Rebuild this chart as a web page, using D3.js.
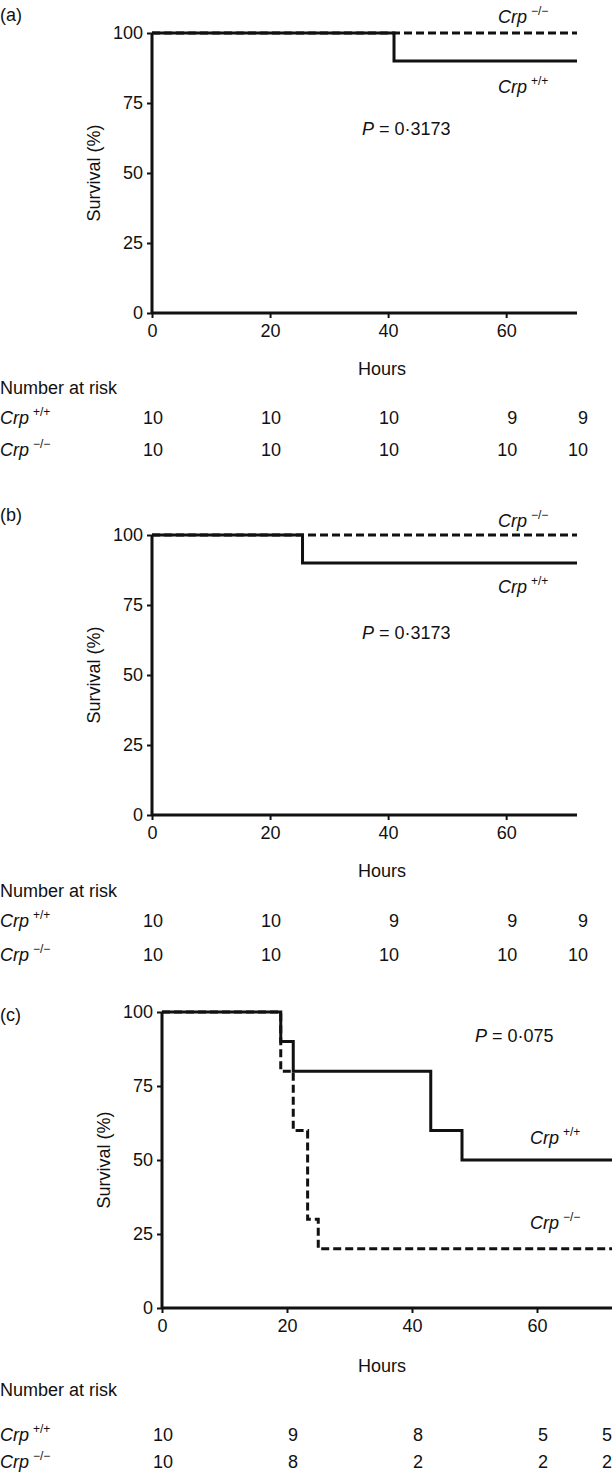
<!DOCTYPE html>
<html><head><meta charset="utf-8">
<script src="https://cdn.jsdelivr.net/npm/d3@7"></script>
<style>
html,body{margin:0;padding:0;background:#fff;}
svg text{font-family:"Liberation Sans",Arial,sans-serif;fill:#111;}
</style></head>
<body>
<svg id="chart" width="614" height="1475"></svg>
<script>
// ---------- data ----------
const hourTicks = [0, 20, 40, 60];
const survivalTicks = [0, 25, 50, 75, 100];
const riskHours = [0, 20, 40, 60, 72];

// Panel (a)
const aWildHours = [0, 41, 72];
const aWildSurvival = [100, 90, 90];
const aKoHours = [0, 72];
const aKoSurvival = [100, 100];
const aRiskWild = [10, 10, 10, 9, 9];
const aRiskKo = [10, 10, 10, 10, 10];
const aP = "0·3173";

// Panel (b)
const bWildHours = [0, 25.5, 72];
const bWildSurvival = [100, 90, 90];
const bKoHours = [0, 72];
const bKoSurvival = [100, 100];
const bRiskWild = [10, 10, 9, 9, 9];
const bRiskKo = [10, 10, 10, 10, 10];
const bP = "0·3173";

// Panel (c)
const cWildHours = [0, 19, 21, 43, 48, 72];
const cWildSurvival = [100, 90, 80, 60, 50, 50];
const cKoHours = [0, 19, 21, 23.3, 25, 72];
const cKoSurvival = [100, 80, 60, 30, 20, 20];
const cRiskWild = [10, 9, 8, 5, 5];
const cRiskKo = [10, 8, 2, 2, 2];
const cP = "0·075";

// ---------- layout ----------
const panels = [
  {tag:"(a)", tagY:21, top:33, bottom:313, left:152, right:577,
   wild:{h:aWildHours, s:aWildSurvival}, ko:{h:aKoHours, s:aKoSurvival},
   riskWild:aRiskWild, riskKo:aRiskKo, p:aP, pX:362, pY:135,
   koLab:[498,23], wildLab:[498,93], off:{hours:62, nar:81, r1:111, r2:143}},
  {tag:"(b)", tagY:521, top:535, bottom:815, left:152, right:577,
   wild:{h:bWildHours, s:bWildSurvival}, ko:{h:bKoHours, s:bKoSurvival},
   riskWild:bRiskWild, riskKo:bRiskKo, p:bP, pX:362, pY:639,
   koLab:[498,527], wildLab:[498,593], off:{hours:62, nar:82, r1:112, r2:146}},
  {tag:"(c)", tagY:1021, top:1012, bottom:1308, left:162, right:612,
   wild:{h:cWildHours, s:cWildSurvival}, ko:{h:cKoHours, s:cKoSurvival},
   riskWild:cRiskWild, riskKo:cRiskKo, p:cP, pX:475, pY:1042,
   koLab:[530,1229], wildLab:[530,1144], off:{hours:64, nar:88, r1:133, r2:160}}
];

const svg = d3.select("#chart");
const FS = 18;

function crpLabel(g, x, y, sup){
  const t = g.append("text").attr("x", x).attr("y", y).attr("font-size", FS);
  t.append("tspan").attr("font-style","italic").text("Crp");
  t.append("tspan").attr("font-size", 12).attr("dx", 4).attr("dy", -8).text(sup);
}

panels.forEach(p => {
  const g = svg.append("g");
  const x = d3.scaleLinear().domain([0, 72]).range([p.left, p.right]);
  const y = d3.scaleLinear().domain([0, 100]).range([p.bottom, p.top]);

  g.append("text").attr("x", 0).attr("y", p.tagY).attr("font-size", FS).text(p.tag);

  // axes
  const xAxis = d3.axisBottom(x).tickValues(hourTicks).tickSize(5).tickPadding(6).tickFormat(d3.format("d"));
  const yAxis = d3.axisLeft(y).tickValues(survivalTicks).tickSize(5).tickPadding(4).tickFormat(d3.format("d"));
  const gx = g.append("g").attr("transform", `translate(0,${p.bottom})`).call(xAxis);
  const gy = g.append("g").attr("transform", `translate(${p.left},0)`).call(yAxis);
  [gx, gy].forEach(a => {
    a.select(".domain").attr("stroke", "#111").attr("stroke-width", 3);
    a.selectAll(".tick line").attr("stroke", "#111").attr("stroke-width", 2);
    a.selectAll(".tick text").attr("font-size", FS).attr("font-family", "Liberation Sans, Arial, sans-serif").attr("fill", "#111");
  });
  gx.select(".domain").attr("d", `M${p.left},0H${p.right}`);
  gy.select(".domain").attr("d", `M0,${p.bottom}V${p.top}`);

  // axis titles
  g.append("text").attr("x", 382).attr("y", p.bottom + p.off.hours).attr("text-anchor", "middle")
    .attr("font-size", FS).text("Hours");
  g.append("text").attr("transform", `translate(${p.left - 52},${(p.top + p.bottom) / 2}) rotate(-90)`)
    .attr("text-anchor", "middle").attr("font-size", FS).text("Survival (%)");

  // curves
  const line = d3.line().x(d => x(d[0])).y(d => y(d[1])).curve(d3.curveStepAfter);
  const koPts = p.ko.h.map((h, i) => [h, p.ko.s[i]]);
  const wildPts = p.wild.h.map((h, i) => [h, p.wild.s[i]]);
  g.append("path").attr("d", line(koPts)).attr("fill", "none").attr("stroke", "#111")
    .attr("stroke-width", 3).attr("stroke-dasharray", "8,4");
  g.append("path").attr("d", line(wildPts)).attr("fill", "none").attr("stroke", "#111")
    .attr("stroke-width", 3);

  // labels
  crpLabel(g, p.koLab[0], p.koLab[1], "−/−");
  crpLabel(g, p.wildLab[0], p.wildLab[1], "+/+");
  const pt = g.append("text").attr("x", p.pX).attr("y", p.pY).attr("font-size", FS);
  pt.append("tspan").attr("font-style", "italic").text("P");
  pt.append("tspan").text(" = " + p.p);

  // number at risk
  const rx = (i) => Math.min(x(riskHours[i]) + 11, 612);
  g.append("text").attr("x", 0).attr("y", p.bottom + p.off.nar).attr("font-size", FS).text("Number at risk");
  crpLabel(g, 0, p.bottom + p.off.r1, "+/+");
  crpLabel(g, 0, p.bottom + p.off.r2, "−/−");
  g.selectAll(".rw").data(p.riskWild).enter().append("text")
    .attr("x", (d, i) => rx(i)).attr("y", p.bottom + p.off.r1)
    .attr("text-anchor", "end").attr("font-size", FS).text(d => d);
  g.selectAll(".rk").data(p.riskKo).enter().append("text")
    .attr("x", (d, i) => rx(i)).attr("y", p.bottom + p.off.r2)
    .attr("text-anchor", "end").attr("font-size", FS).text(d => d);
});
</script>
</body></html>
